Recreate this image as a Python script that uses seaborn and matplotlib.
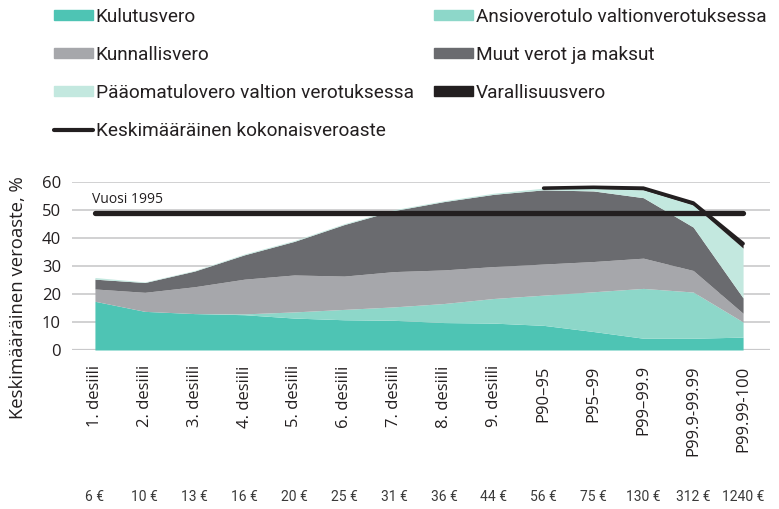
import numpy as np
import pandas as pd
import matplotlib
matplotlib.use("Agg")
import matplotlib.pyplot as plt
from matplotlib.patches import Patch
from matplotlib.lines import Line2D
import matplotlib.transforms as mtransforms
import seaborn as sns

categories = ["1. desiili", "2. desiili", "3. desiili", "4. desiili", "5. desiili",
              "6. desiili", "7. desiili", "8. desiili", "9. desiili", "P90–95",
              "P95–99", "P99–99.9", "P99.9-99.99", "P99.99-100"]
income = ["6 €", "10 €", "13 €", "16 €", "20 €", "25 €", "31 €", "36 €", "44 €",
          "56 €", "75 €", "130 €", "312 €", "1240 €"]

kulutusvero = [17.4, 13.8, 13.0, 12.6, 11.4, 10.8, 10.6, 9.8, 9.6, 8.8, 6.6, 4.2, 4.2, 4.6]
ansioverotulo = [0.0, 0.0, 0.0, 0.3, 2.2, 3.7, 4.8, 6.8, 8.8, 10.8, 14.2, 17.8, 16.5, 5.4]
kunnallisvero = [4.4, 6.8, 9.6, 12.4, 13.2, 11.9, 12.6, 12.0, 11.4, 11.1, 10.8, 10.8, 7.7, 3.1]
muut = [3.5, 3.5, 5.6, 8.7, 12.0, 18.4, 21.8, 24.4, 25.8, 26.5, 25.2, 21.6, 15.5, 5.5]
paaoma = [0.6, 0.2, 0.2, 0.3, 0.3, 0.3, 0.3, 0.3, 0.4, 0.6, 0.9, 2.8, 7.9, 17.8]
varallisuus = [0.0, 0.0, 0.0, 0.0, 0.0, 0.0, 0.0, 0.0, 0.0, 0.0, 0.4, 0.6, 0.7, 1.6]
keskimaarainen = 49.0

colors = {
    "Kulutusvero": "#4ec4b4",
    "Ansioverotulo valtionverotuksessa": "#8dd7c9",
    "Kunnallisvero": "#a6a7ab",
    "Muut verot ja maksut": "#6a6b6f",
    "Pääomatulovero valtion verotuksessa": "#c3e8df",
    "Varallisuusvero": "#231f20",
}

sns.set_theme(style="white")
plt.rcParams["font.family"] = ["Open Sans", "DejaVu Sans"]

fig = plt.figure(figsize=(7.79, 5.09), dpi=100)
ax = fig.add_axes([72 / 779, 1 - 350 / 509, 698 / 779, 168 / 509])

x = np.arange(len(categories))
series = [kulutusvero, ansioverotulo, kunnallisvero, muut, paaoma]
names = ["Kulutusvero", "Ansioverotulo valtionverotuksessa", "Kunnallisvero",
         "Muut verot ja maksut", "Pääomatulovero valtion verotuksessa"]
base = np.zeros(len(x))
for vals, nm in zip(series, names):
    top = base + np.array(vals)
    ax.fill_between(x, base, top, color=colors[nm], linewidth=0, zorder=2)
    base = top

# wealth tax on top (only where present)
v = np.array(varallisuus)
idx = np.arange(9, len(x))
ax.fill_between(x[idx], base[idx], base[idx] + v[idx], color=colors["Varallisuusvero"],
                linewidth=0, zorder=3)
ax.plot(x[idx], base[idx] + v[idx], color=colors["Varallisuusvero"], lw=2.6,
        solid_joinstyle="miter", zorder=3)

df_avg = pd.DataFrame({"x": x, "y": [keskimaarainen] * len(x)})
sns.lineplot(data=df_avg, x="x", y="y", ax=ax, color="#231f20", lw=3.8, zorder=4,
             legend=False)

ax.text(-0.05, 51.2, "Vuosi 1995", fontsize=10, color="#231f20", ha="left",
        va="bottom", zorder=5)

ax.set_xlim(-0.46, 13.54)
ax.set_ylim(0, 60)
ax.set_yticks(range(0, 61, 10))
ax.yaxis.grid(True, color="#c9c9cb", lw=1.2, zorder=0)
ax.set_axisbelow(True)
for s in ax.spines.values():
    s.set_visible(False)
ax.axhline(0, color="#c9c9cb", lw=1.6, zorder=1)
ax.set_xticks(x)
ax.set_xticklabels(categories, rotation=90, va="top", ha="center", fontsize=12,
                   color="#231f20")
ax.tick_params(axis="x", length=0, pad=11)
ax.tick_params(axis="y", length=0, pad=8, labelsize=12, labelcolor="#231f20")
ax.set_xlabel("")
ax.set_ylabel("Keskimääräinen veroaste, %", fontsize=13.3, color="#231f20")
ax.yaxis.set_label_coords((27 - 72) / 698, (350 - 298) / 168)

trans = mtransforms.blended_transform_factory(ax.transData, fig.transFigure)
for xi, lab in zip(x, income):
    ax.text(xi, 1 - 497 / 509, lab, transform=trans, ha="center", va="center",
            fontsize=10, color="#3a3a3a", family=["Roboto", "DejaVu Sans"])

handles = [
    Patch(color=colors["Kulutusvero"], label="Kulutusvero"),
    Patch(color=colors["Kunnallisvero"], label="Kunnallisvero"),
    Patch(color=colors["Pääomatulovero valtion verotuksessa"],
          label="Pääomatulovero valtion verotuksessa"),
    Line2D([0], [0], color="#231f20", lw=3, label="Keskimääräinen kokonaisveroaste"),
    Patch(color=colors["Ansioverotulo valtionverotuksessa"],
          label="Ansioverotulo valtionverotuksessa"),
    Patch(color=colors["Muut verot ja maksut"], label="Muut verot ja maksut"),
    Patch(color=colors["Varallisuusvero"], label="Varallisuusvero"),
]
leg = fig.legend(handles=handles, loc="upper left", ncol=2,
                 bbox_to_anchor=(54 / 779, 1 - 8 / 509), frameon=False,
                 prop={"family": ["Roboto", "DejaVu Sans"], "size": 13.7},
                 handlelength=2.05, handleheight=0.45, handletextpad=0.15,
                 labelspacing=1.05, columnspacing=1.05, borderpad=0,
                 borderaxespad=0)
for t in leg.get_texts():
    t.set_color("#231f20")

fig.savefig("out.png", dpi=100)
